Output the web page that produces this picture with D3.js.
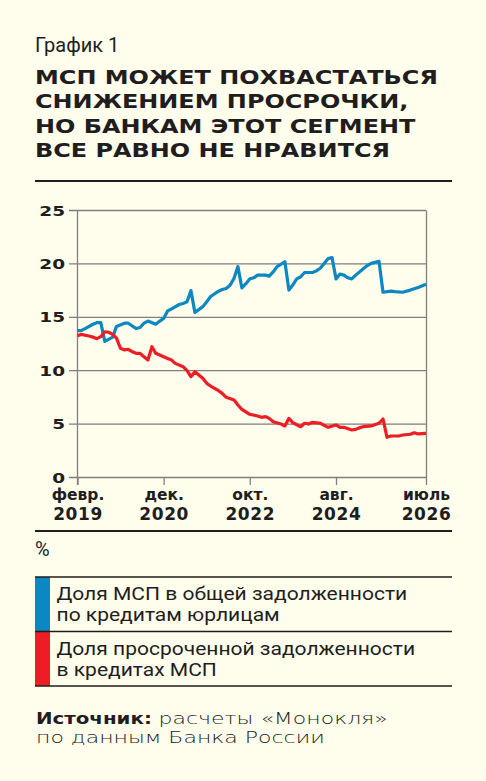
<!DOCTYPE html>
<html>
<head>
<meta charset="utf-8">
<script src="https://cdn.jsdelivr.net/npm/d3@7"></script>
<style>
  body { margin: 0; background: #fffdeb; }
  svg { display: block; }
</style>
</head>
<body>
<div id="chart"></div>
<script>
// Page size
var width = 486;
var height = 781;

// Texts
var heading = "График 1";
var titleLines = ["МСП МОЖЕТ ПОХВАСТАТЬСЯ", "СНИЖЕНИЕМ ПРОСРОЧКИ,",
                  "НО БАНКАМ ЭТОТ СЕГМЕНТ", "ВСЕ РАВНО НЕ НРАВИТСЯ"];
var unitLabel = "%";
var legendLabels = [["Доля МСП в общей задолженности", "по кредитам юрлицам"],
                    ["Доля просроченной задолженности", "в кредитах МСП"]];
var sourceBold = "Источник:";
var sourceLines = ["расчеты «Монокля»", "по данным Банка России"];

// Share of SME in total corporate loan debt, %
var shareDates = ["2019-02","2019-03","2019-04","2019-06","2019-07","2019-08","2019-09","2019-11","2019-12",
  "2020-02","2020-03","2020-05","2020-06","2020-07","2020-08","2020-10","2020-11","2020-12",
  "2021-01","2021-02","2021-04","2021-05","2021-06","2021-07","2021-08","2021-10","2021-11","2021-12",
  "2022-02","2022-03","2022-04","2022-05","2022-06","2022-07","2022-08","2022-09","2022-10","2022-11","2022-12",
  "2023-02","2023-03","2023-04","2023-05","2023-07","2023-08","2023-09","2023-10","2023-11","2023-12",
  "2024-02","2024-03","2024-04","2024-06","2024-07","2024-08","2024-09","2024-10","2024-11","2024-12",
  "2025-01","2025-03","2025-04","2025-05","2025-07","2025-08","2025-10","2025-11",
  "2026-01","2026-03","2026-05","2026-07"];
var shareValues = [13.7,13.7,13.9,14.3,14.45,14.45,12.7,13.1,14.1,
  14.4,14.4,13.9,14.0,14.4,14.6,14.3,14.6,14.85,
  15.55,15.75,16.15,16.25,16.4,17.45,15.4,15.95,16.4,16.9,
  17.4,17.55,17.65,17.95,18.6,19.7,17.7,18.1,18.55,18.65,18.9,
  18.9,18.8,19.2,19.7,20.15,17.5,18.0,18.55,18.75,19.15,
  19.15,19.3,19.55,20.45,20.55,18.55,19.0,18.9,18.65,18.55,
  18.9,19.5,19.8,20.0,20.2,17.3,17.4,17.35,
  17.3,17.5,17.75,18.05];

// Share of overdue debt in SME loans, %
var overdueDates = ["2019-02","2019-03","2019-05","2019-06","2019-07","2019-08","2019-09","2019-10","2019-11","2019-12",
  "2020-01","2020-02","2020-03","2020-04","2020-05","2020-06","2020-07","2020-08","2020-09","2020-10","2020-12",
  "2021-01","2021-02","2021-03","2021-05","2021-06","2021-07","2021-08","2021-10","2021-11","2021-12",
  "2022-02","2022-03","2022-04","2022-06","2022-07","2022-08","2022-10","2022-12",
  "2023-01","2023-02","2023-03","2023-04","2023-06","2023-07","2023-08","2023-09","2023-11","2023-12",
  "2024-01","2024-02","2024-04","2024-05","2024-06","2024-08","2024-09","2024-10","2024-12",
  "2025-01","2025-02","2025-03","2025-05","2025-07","2025-08","2025-09","2025-10","2025-12",
  "2026-01","2026-03","2026-04","2026-05","2026-07"];
var overdueValues = [13.23,13.35,13.2,13.1,12.95,13.14,13.6,13.55,13.36,13.0,
  12.05,11.9,11.96,11.73,11.58,11.58,11.26,10.95,12.2,11.58,11.26,
  11.1,10.95,10.64,10.33,9.95,9.39,9.86,9.24,8.77,8.52,
  8.08,7.83,7.46,7.21,6.74,6.34,5.87,5.71,
  5.59,5.65,5.49,5.18,4.96,4.78,5.49,5.08,4.71,5.03,
  4.96,5.12,5.03,4.84,4.65,4.87,4.65,4.65,4.4,
  4.46,4.62,4.71,4.78,5.03,5.43,3.72,3.84,3.84,
  3.93,4.0,4.15,4.03,4.09];

// Axis ticks
var yTicks = [0, 5, 10, 15, 20, 25];
var xTickDates = ["2019-02", "2020-12", "2022-10", "2024-08", "2026-07"];
var xTickMonths = ["февр.", "дек.", "окт.", "авг.", "июль"];
var xTickYears = ["2019", "2020", "2022", "2024", "2026"];

var colors = ["#0b87c1", "#ee1c25"];
var ink = "#211d1e";
var grid = "#7f7f7f";

var parseMonth = d3.timeParse("%Y-%m");

var svg = d3.select("#chart").append("svg")
    .attr("width", width)
    .attr("height", height);

// ---- Header ----
svg.append("text")
    .attr("x", 35).attr("y", 51.5)
    .attr("font-family", "Roboto")
    .attr("font-size", 20)
    .attr("fill", ink)
    .text(heading);

var title = svg.append("g");
title.selectAll("text")
    .data(titleLines)
    .join("text")
    .attr("x", 0)
    .attr("y", function(d, i) { return 84 + i * 24.3; })
    .attr("font-family", "DejaVu Sans")
    .attr("font-weight", "bold")
    .attr("font-size", 19.5)
    .attr("fill", ink)
    .text(function(d) { return d; });
// stretch the title so the first line fills the column, like the wide original face
var titleW = title.select("text").node().getComputedTextLength();
title.attr("transform", "translate(35,0) scale(" + (403 / titleW) + ",1)");

svg.append("line")
    .attr("x1", 35).attr("x2", 452)
    .attr("y1", 181).attr("y2", 181)
    .attr("stroke", ink).attr("stroke-width", 2.2);

// ---- Chart ----
var plot = { left: 77.5, right: 426, top: 210, bottom: 477 };

var x = d3.scaleTime()
    .domain([parseMonth(xTickDates[0]), parseMonth(xTickDates[xTickDates.length - 1])])
    .range([plot.left, plot.right]);

var y = d3.scaleLinear()
    .domain([0, 25])
    .range([plot.bottom, plot.top]);

// gridlines + y labels: axis hung on the right edge, ticks reaching back past the left edge
var gridLen = plot.right - 69;
var yAxis = svg.append("g")
    .attr("transform", "translate(" + plot.right + ",0)")
    .call(d3.axisLeft(y).tickValues(yTicks).tickSize(gridLen).tickSizeOuter(0).tickPadding(4));
yAxis.select(".domain").attr("stroke", grid).attr("stroke-width", 1.3);
yAxis.selectAll(".tick line").attr("stroke", grid).attr("stroke-width", 1.3);
yAxis.selectAll(".tick text")
    .attr("x", 0)
    .attr("dy", null)
    .attr("y", 5)
    .attr("transform", "translate(" + (-(gridLen + 4)) + ",0) scale(1.32,1)")
    .attr("font-family", "DejaVu Sans")
    .attr("font-weight", "bold")
    .attr("font-size", 14)
    .attr("fill", ink);

// left axis line, running down to the tick marks
svg.append("line")
    .attr("x1", plot.left).attr("x2", plot.left)
    .attr("y1", y(25)).attr("y2", plot.bottom + 8)
    .attr("stroke", grid).attr("stroke-width", 1.3);

var xAxis = svg.append("g")
    .attr("transform", "translate(0," + plot.bottom + ")")
    .call(d3.axisBottom(x).tickValues(xTickDates.map(parseMonth)).tickSize(8).tickFormat(""));
xAxis.select(".domain").remove();
xAxis.selectAll(".tick line").attr("stroke", grid).attr("stroke-width", 1.3);
xAxis.selectAll(".tick").each(function(d, i) {
  var t = d3.select(this).append("text")
      .attr("text-anchor", "middle")
      .attr("font-family", "DejaVu Sans")
      .attr("font-weight", "bold")
      .attr("fill", ink);
  t.append("tspan")
      .attr("x", 0).attr("y", 22.5)
      .attr("font-size", 15.5)
      .text(xTickMonths[i]);
  // year digits a touch wider, as in the original face
  t.append("tspan")
      .attr("x", 0).attr("y", 42.5)
      .attr("font-size", 17)
      .attr("letter-spacing", 0.6)
      .text(xTickYears[i]);
});

// series
var series = [
  { dates: shareDates, values: shareValues, color: colors[0] },
  { dates: overdueDates, values: overdueValues, color: colors[1] }
];

var line = d3.line()
    .x(function(d) { return x(d.date); })
    .y(function(d) { return y(d.value); });

series.forEach(function(s) {
  var pts = s.dates.map(function(d, i) { return { date: parseMonth(d), value: s.values[i] }; });
  svg.append("path")
      .datum(pts)
      .attr("d", line)
      .attr("fill", "none")
      .attr("stroke", s.color)
      .attr("stroke-width", 3.2)
      .attr("stroke-linejoin", "round");
});

// ---- Legend ----
svg.append("line")
    .attr("x1", 35).attr("x2", 452)
    .attr("y1", 531).attr("y2", 531)
    .attr("stroke", ink).attr("stroke-width", 2.2);

svg.append("text")
    .attr("x", 35).attr("y", 556)
    .attr("font-family", "Roboto")
    .attr("font-size", 20)
    .attr("fill", ink)
    .text(unitLabel);

var rowTop = 577, rowH = 54.5;
var rows = svg.append("g").selectAll("g")
    .data(legendLabels)
    .join("g")
    .attr("transform", function(d, i) { return "translate(0," + (rowTop + i * rowH) + ")"; });

rows.append("rect")
    .attr("x", 35).attr("y", 0)
    .attr("width", 15).attr("height", rowH)
    .attr("fill", function(d, i) { return colors[i]; });

var rowText = rows.append("g");
rowText.selectAll("text")
    .data(function(d) { return d; })
    .join("text")
    .attr("x", 0)
    .attr("y", function(d, i) { return 23.5 + i * 20.6; })
    .attr("font-family", "Roboto")
    .attr("font-size", 17.5)
    .attr("fill", ink)
    .text(function(d) { return d; });
var legW = rowText.select("text").node().getComputedTextLength();
rowText.attr("transform", "translate(56.5,0) scale(" + (351 / legW) + ",1)");

[0, 1, 2].forEach(function(i) {
  svg.append("line")
      .attr("x1", 35).attr("x2", 452)
      .attr("y1", rowTop + i * rowH).attr("y2", rowTop + i * rowH)
      .attr("stroke", ink).attr("stroke-width", 1.3);
});

// ---- Source ----
var srcBold = svg.append("text")
    .attr("y", 724)
    .attr("font-family", "DejaVu Sans")
    .attr("font-weight", "bold")
    .attr("font-size", 15.5)
    .attr("fill", ink)
    .text(sourceBold);
var boldW = srcBold.node().getComputedTextLength();
srcBold.attr("transform", "translate(36,0) scale(" + (116 / boldW) + ",1)");

var source = svg.append("g");
source.selectAll("text")
    .data(sourceLines)
    .join("text")
    .attr("x", 0)
    .attr("y", function(d, i) { return 724 + i * 19.5; })
    .attr("font-family", "DejaVu Sans")
    .attr("font-size", 15.5)
    .attr("font-weight", 200)
    .attr("fill", ink)
    .text(function(d) { return d; });
var srcW = source.selectAll("text").nodes()[1].getComputedTextLength();
var srcK = 289 / srcW;
source.attr("transform", "translate(36,0) scale(" + srcK + ",1)");
// first line starts after the bold word
source.select("text").attr("x", (158.5 - 36) / srcK);
</script>
</body>
</html>
